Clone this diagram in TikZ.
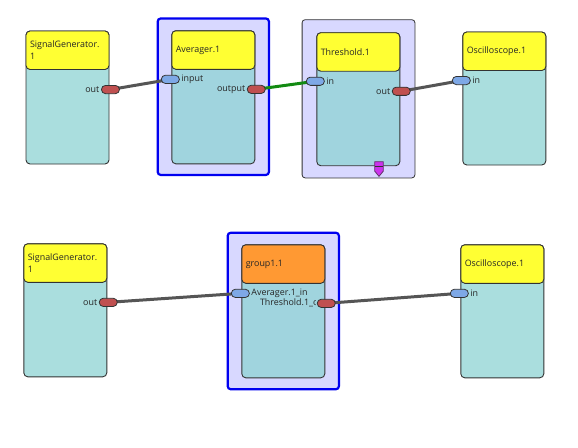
\documentclass[tikz,border=0pt]{standalone}
\usepackage{fontspec}
\setmainfont{Open Sans}
\usetikzlibrary{calc}
\definecolor{hdryellow}{HTML}{FFFF33}
\definecolor{hdrorange}{HTML}{FF9933}
\definecolor{bodycyan}{HTML}{AADEDE}
\definecolor{bodyblue}{HTML}{A0D4DE}
\definecolor{grplilac}{HTML}{D8D8FF}
\definecolor{grpblue}{HTML}{0000F0}
\definecolor{edgedark}{HTML}{333333}
\definecolor{outred}{HTML}{C05050}
\definecolor{inblue}{HTML}{7EA8E6}
\definecolor{wiregray}{HTML}{555555}
\definecolor{wiregreen}{HTML}{128A12}
\definecolor{markpurple}{HTML}{CC33EE}
\pgfdeclarelayer{wires}
\pgfdeclarelayer{ports}
\pgfsetlayers{main,wires,ports}

\begin{document}
\begin{tikzpicture}[x=1pt,y=-1pt,font=\fontsize{8.9}{11.6}\selectfont,text=black!85]
        \useasboundingbox (0,0) rectangle (578,447);
        \fill[white] (0,0) rectangle (578,447);
        \begin{scope}[every node/.style={rectangle,rounded corners=3pt,fill=grplilac,inner sep=0pt}]
            \node (avg) [draw=grpblue, line width=2.2pt, minimum width=111.2pt, minimum height=156.5pt] at (213.3, 96.7) {};
            \node (thg) [draw=edgedark, line width=0.8pt, minimum width=112.8pt, minimum height=158.2pt] at (358.5, 98.8) {};
            \node (grg) [draw=grpblue, line width=2.2pt, minimum width=111.2pt, minimum height=156.5pt] at (283.3, 311) {};
        \end{scope}
        \begin{scope}[every node/.style={rectangle,rounded corners=4pt,draw=edgedark,line width=0.9pt,minimum width=83pt,minimum height=133pt,inner sep=0pt}]
            \node (sg1) [fill=bodycyan] at (67.5, 97.5) {};
            \node (av1) [fill=bodyblue] at (213.3, 97.3) {};
            \node (th1) [fill=bodyblue] at (358.3, 99.2) {};
            \node (os1) [fill=bodycyan] at (504.3, 98.5) {};
            \node (sg2) [fill=bodycyan] at (65.3, 310.3) {};
            \node (gr1) [fill=bodyblue] at (283.3, 311.3) {};
            \node (os2) [fill=bodycyan] at (502.3, 311.3) {};
        \end{scope}
        \begin{scope}[every node/.style={rectangle,rounded corners=4pt,draw=edgedark,line width=0.9pt,fill=hdryellow,anchor=north,minimum width=83pt,minimum height=38.5pt,text width=75pt,align=left,inner xsep=4pt,inner ysep=0pt}]
            \node (sg1h) at (sg1.north) {SignalGenerator.\\1};
            \node (av1h) at (av1.north) {Averager.1};
            \node (th1h) at (th1.north) {Threshold.1};
            \node (os1h) at (os1.north) {Oscilloscope.1};
            \node (sg2h) at (sg2.north) {SignalGenerator.\\1};
            \node (gr1h) [fill=hdrorange] at (gr1.north) {group1.1};
            \node (os2h) at (os2.north) {Oscilloscope.1};
        \end{scope}
        % marker under Threshold.1
        \coordinate (thmark) at ($(th1.south)+(20.7,0)$);
        \filldraw[fill=markpurple, draw=edgedark!70!markpurple, line width=0.8pt] ($(thmark)+(-4.3,-4.5)$) -- ++(8.6,0) -- ++(0,9.5) -- ++(-4.3,5.2) -- ++(-4.3,-5.2) -- cycle;
        \draw[edgedark, line width=0.9pt] ($(thmark)+(-4.3,0)$) -- ($(thmark)+(4.3,0)$);
        \begin{pgfonlayer}{ports}
        \begin{scope}[every node/.style={rectangle,rounded corners=4pt,draw=edgedark,line width=0.8pt,minimum width=18pt,minimum height=8.2pt,inner sep=0pt}]
            \node (sg1out) [fill=outred] at ($(sg1.north east)+(1,59)$) {};
            \node (av1in) [fill=inblue] at ($(av1.north west)+(-1,49)$) {};
            \node (av1out) [fill=outred] at ($(av1.north east)+(1,59)$) {};
            \node (th1in) [fill=inblue] at ($(th1.north west)+(-1,49)$) {};
            \node (th1out) [fill=outred] at ($(th1.north east)+(1,59)$) {};
            \node (os1in) [fill=inblue] at ($(os1.north west)+(-1,49)$) {};
            \node (sg2out) [fill=outred] at ($(sg2.north east)+(1,59)$) {};
            \node (gr1in) [fill=inblue] at ($(gr1.north west)+(-1,49)$) {};
            \node (gr1out) [fill=outred] at ($(gr1.north east)+(1,59)$) {};
            \node (os2in) [fill=inblue] at ($(os2.north west)+(-1,49)$) {};
        \end{scope}
        \begin{scope}[every node/.style={inner xsep=1.5pt,inner ysep=0pt}]
            \node (sg1outl) [anchor=east] at (sg1out.west) {out};
            \node (av1inl) [anchor=west] at (av1in.east) {input};
            \node (av1outl) [anchor=east] at (av1out.west) {output};
            \node (th1inl) [anchor=west] at (th1in.east) {in};
            \node (th1outl) [anchor=east] at (th1out.west) {out};
            \node (os1inl) [anchor=west] at (os1in.east) {in};
            \node (sg2outl) [anchor=east] at (sg2out.west) {out};
            \node (os2inl) [anchor=west] at (os2in.east) {in};
            \begin{scope}
                \clip ($(gr1in.east)+(0,-7)$) rectangle ($(gr1in.east)+(57.5,7)$);
                \node (gr1inl) [anchor=west] at (gr1in.east) {Averager.1\_input};
            \end{scope}
            \begin{scope}
                \clip ($(gr1out.west)+(-58.5,-7)$) rectangle ($(gr1out.west)+(-1.2,7)$);
                \node (gr1outl) [anchor=west] at ($(gr1out.west)+(-58.5,0)$) {Threshold.1\_output};
            \end{scope}
        \end{scope}
        \end{pgfonlayer}
        \begin{pgfonlayer}{wires}
        \path [-] (sg1out.center) edge[draw=wiregray,line width=3pt] (av1in.center);
        \path [-] (av1out.center) edge[draw=wiregreen,line width=3pt] (th1in.center);
        \path [-] (th1out.center) edge[draw=wiregray,line width=3pt] (os1in.center);
        \path [-] (sg2out.center) edge[draw=wiregray,line width=3pt] (gr1in.center);
        \path [-] (gr1out.center) edge[draw=wiregray,line width=3pt] (os2in.center);
        \end{pgfonlayer}
    \end{tikzpicture}
\end{document}
